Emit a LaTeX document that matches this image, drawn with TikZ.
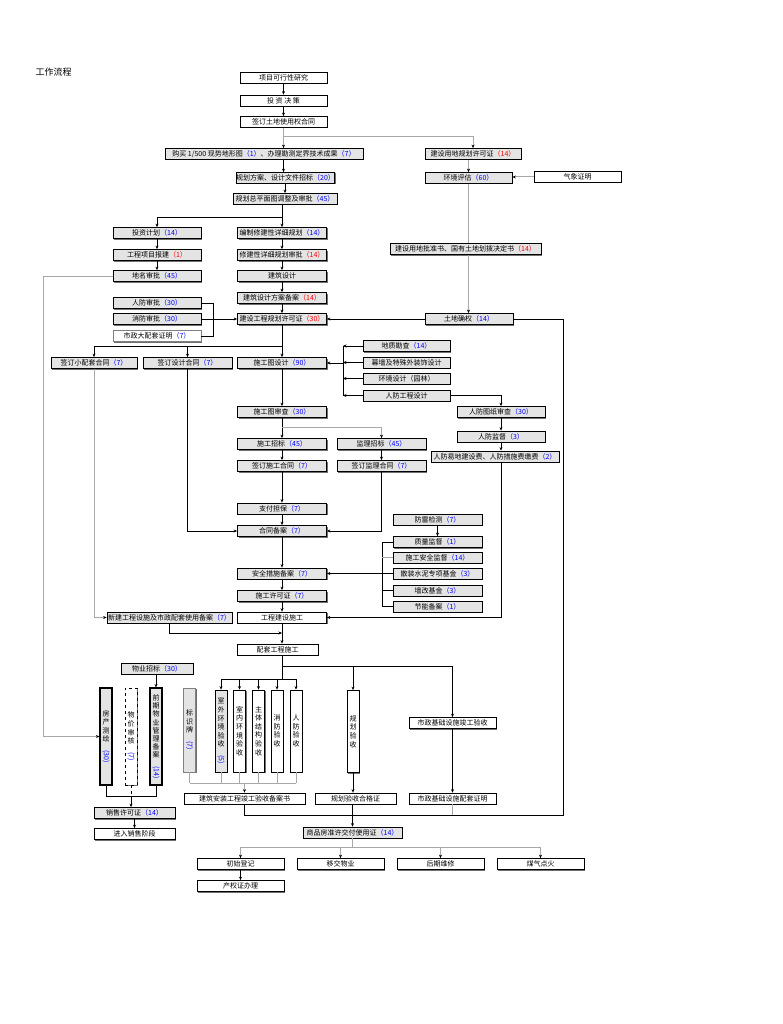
\documentclass[tikz,border=0pt]{standalone}
\usepackage{fontspec}
\setmainfont{Noto Sans CJK SC}
\usetikzlibrary{arrows.meta}
\definecolor{boxgray}{HTML}{E4E4E4}
\definecolor{lgray}{HTML}{A8A8A8}
\definecolor{shade}{HTML}{707070}
\newcommand\bn[1]{\textcolor{blue}{（#1）}}
\newcommand\rn[1]{\textcolor{red}{（#1）}}
\newcommand\vn[1]{\rotatebox{-90}{\textcolor{blue}{(#1)}}}
\begin{document}
\begin{tikzpicture}[x=1pt,y=-1pt,
 bx/.style={draw=black, line width=0.8pt, fill=boxgray, minimum height=11pt, inner sep=0pt, font=\fontsize{7}{8}\selectfont,
   preaction={fill=shade, transform canvas={shift={(1pt,-1pt)}}}},
 wb/.style={bx, fill=white},
 vb/.style={bx, align=center, font=\fontsize{7}{8.6}\selectfont, minimum width=12pt},
 ln/.style={draw=black, line width=0.7pt},
 ar/.style={ln, -{Stealth[length=3.5pt,width=3pt]}},
 gl/.style={draw=lgray, line width=1pt},
 ga/.style={gl, -{Stealth[length=3.5pt,width=3pt,color=black]}},
]
\fill[white] (0,0) rectangle (782,1024);
\useasboundingbox (0,0) rectangle (782,1024);

\node[anchor=west, font=\fontsize{9}{10}\selectfont] (title) at (32,72) {工作流程};

% top
\node[wb, minimum width=87pt] (feas) at (283.5,78) {项目可行性研究};
\node[wb, minimum width=87pt] (inv) at (283.5,100.5) {投 资 决 策};
\node[wb, minimum width=87pt] (land) at (283.5,122) {签订土地使用权合同};
\node[bx, minimum width=198pt] (buy) at (264,154) {购买 1/500 现势地形图\bn{1}、办理勘测定界技术成果\bn{7}};
\node[bx, minimum width=96pt] (plp) at (473,154) {建设用地规划许可证\rn{14}};
\node[bx, minimum width=87pt] (env) at (468.5,178) {环境评估\bn{60}};
\node[wb, minimum width=87pt, line width=0.6pt] (wea) at (577.5,177) {气象证明};
\node[bx, minimum width=97pt] (sch) at (285.5,178) {规划方案、设计文件招标\bn{20}};
\node[bx, minimum width=104pt] (mst) at (285,199) {规划总平面图调整及审批\bn{45}};

% left column
\node[bx, minimum width=88pt] (ipl) at (157,233) {投资计划\bn{14}};
\node[bx, minimum width=88pt] (rep) at (157,255) {工程项目报建\rn{1}};
\node[bx, minimum width=88pt] (nam) at (157,276) {地名审批\bn{45}};
\node[bx, minimum width=88pt] (cda) at (157,303) {人防审批\bn{30}};
\node[bx, minimum width=88pt] (fir) at (157,319) {消防审批\bn{30}};
\node[wb, minimum width=88pt, draw=gray] (mun) at (157,336) {市政大配套证明\bn{7}};

% center column
\node[bx, minimum width=89pt] (dpl) at (282,233) {编制修建性详细规划\bn{14}};
\node[bx, minimum width=89pt] (dap) at (282,255) {修建性详细规划审批\rn{14}};
\node[bx, minimum width=89pt] (ard) at (282,276) {建筑设计};
\node[bx, minimum width=89pt] (arr) at (282,298) {建筑设计方案备案\rn{14}};
\node[bx, minimum width=89pt] (bpp) at (282,319) {建设工程规划许可证\rn{30}};
\node[bx, minimum width=89pt] (drw) at (282,363) {施工图设计\bn{90}};
\node[bx, minimum width=89pt] (rev) at (282,412) {施工图审查\bn{30}};
\node[bx, minimum width=89pt] (ctn) at (282,444) {施工招标\bn{45}};
\node[bx, minimum width=89pt] (cct) at (282,466) {签订施工合同\bn{7}};
\node[bx, minimum width=89pt] (gua) at (282,508.5) {支付担保\bn{7}};
\node[bx, minimum width=89pt] (crd) at (282,531) {合同备案\bn{7}};
\node[bx, minimum width=89pt] (saf) at (282,573.5) {安全措施备案\bn{7}};
\node[bx, minimum width=89pt] (pmt) at (282,596) {施工许可证\bn{7}};
\node[wb, minimum width=89pt, line width=0.6pt] (con) at (282,617.5) {工程建设施工};
\node[wb, minimum width=81pt] (sup) at (277.5,649.5) {配套工程施工};

% right of center
\node[bx, minimum width=151pt] (lap) at (465.5,249) {建设用地批准书、国有土地划拨决定书\rn{14}};
\node[bx, minimum width=88pt] (lrt) at (469,319) {土地确权\bn{14}};

\node[bx, minimum width=86pt] (smc) at (94,363) {签订小配套合同\bn{7}};
\node[bx, minimum width=89pt] (dsc) at (187.5,363) {签订设计合同\bn{7}};

\node[bx, minimum width=87pt] (geo) at (406.5,346) {地质勘查\bn{14}};
\node[bx, minimum width=87pt] (cur) at (406.5,362.5) {幕墙及特殊外装饰设计};
\node[bx, minimum width=87pt] (lsc) at (406.5,378.5) {环境设计（园林）};
\node[bx, minimum width=87pt] (cdd) at (406.5,395.5) {人防工程设计};
\node[bx, minimum width=88pt] (cdr) at (501,412) {人防图纸审查\bn{30}};
\node[bx, minimum width=88pt] (cds) at (501,436.5) {人防监督\bn{3}};
\node[bx, minimum width=128pt] (cdf) at (495,456.5) {人防易地建设费、人防措施费缴费\bn{2}};

\node[bx, minimum width=89pt] (stn) at (381.5,444) {监理招标\bn{45}};
\node[bx, minimum width=89pt] (sct) at (381.5,466) {签订监理合同\bn{7}};

\node[bx, minimum width=89pt] (lig) at (437.5,519.5) {防雷检测\bn{7}};
\node[bx, minimum width=89pt] (qua) at (437.5,542) {质量监督\bn{1}};
\node[bx, minimum width=89pt] (sss) at (437.5,557.5) {施工安全监督\bn{14}};
\node[bx, minimum width=89pt] (cem) at (437.5,573.5) {散装水泥专项基金\bn{3}};
\node[bx, minimum width=89pt] (wal) at (437.5,590.5) {墙改基金\bn{3}};
\node[bx, minimum width=89pt] (ene) at (437.5,606.5) {节能备案\bn{1}};

\node[bx, minimum width=125pt] (fac) at (169.5,617.5) {新建工程设施及市政配套使用备案\bn{7}};
\node[bx, minimum width=72pt] (ptd) at (157,668.5) {物业招标\bn{30}};

% vertical boxes
\node[vb, minimum height=97pt, line width=1.1pt] (v1) at (106,736.5) {房\\产\\测\\绘\\\vn{30}};
\node[vb, minimum height=97pt, fill=white, dashed, preaction={}] (v2) at (131,736.5) {物\\价\\审\\核\\\vn{7}};
\node[vb, minimum height=97pt, line width=1.1pt, font=\fontsize{7}{8.2}\selectfont] (v3) at (156,736.5) {前\\期\\物\\业\\管\\理\\备\\案\\\vn{14}};
\node[vb, minimum height=84pt, draw=gray] (v4) at (189.5,730) {标\\识\\牌\\\vn{7}};
\node[vb, minimum height=82pt] (v5) at (221,731) {室\\外\\环\\境\\验\\收\\\vn{5}};
\node[vb, minimum height=82pt, fill=white] (v6) at (239.5,731) {室\\内\\环\\境\\验\\收};
\node[vb, minimum height=82pt, fill=white] (v7) at (258.5,731) {主\\体\\结\\构\\验\\收};
\node[vb, minimum height=82pt, fill=white] (v8) at (277,731) {消\\防\\验\\收};
\node[vb, minimum height=82pt, fill=white] (v9) at (296,731) {人\\防\\验\\收};
\node[vb, minimum height=82pt, fill=white] (v10) at (353,731.5) {规\\划\\验\\收};

\node[wb, minimum width=87pt, line width=0.6pt] (iac) at (452.5,723) {市政基础设施竣工验收};
\node[wb, minimum width=121pt] (brc) at (244.5,798.5) {建筑安装工程竣工验收备案书};
\node[wb, minimum width=81pt] (plc) at (355.5,798.5) {规划验收合格证};
\node[wb, minimum width=87pt, line width=0.6pt] (ifc) at (452.5,798.5) {市政基础设施配套证明};
\node[bx, minimum width=81pt] (sal) at (134.5,813) {销售许可证\bn{14}};
\node[wb, minimum width=81pt, line width=0.6pt] (ens) at (134.5,834) {进入销售阶段};
\node[bx, minimum width=99pt] (cmd) at (352.5,832.5) {商品房准许交付使用证\bn{14}};
\node[wb, minimum width=87pt] (ini) at (240.5,864) {初始登记};
\node[wb, minimum width=87pt] (trn) at (340.5,864) {移交物业};
\node[wb, minimum width=87pt] (mnt) at (440.5,864) {后期维修};
\node[wb, minimum width=87pt] (gas) at (540.5,864) {煤气点火};
\node[wb, minimum width=87pt] (dee) at (240.5,886) {产权证办理};

% ---------- connectors ----------
\draw[ar] (feas) -- (inv);
\draw[ar] (inv) -- (land);
\coordinate (j1) at (283.5,137);
\draw[gl] (land) -- (j1);
\draw[ga] (j1) -- (j1 |- buy.north);
\draw[ga] (j1) -| (plp.north);
\draw[ar] (buy.south -| j1) -- (j1 |- sch.north);
\draw[ar] (sch.south -| mst) -- (mst.north);
\coordinate (j2) at (282,217);
\draw[ln] (mst.south -| j2) -- (j2);
\draw[ar] (j2) -| (ipl.north);
\draw[ar] (j2) -- (dpl.north);
\draw[ar] (ipl) -- (rep);
\draw[ar] (rep) -- (nam);
\draw[ar] (dpl) -- (dap);
\draw[ar] (dap) -- (ard);
\draw[ar] (ard) -- (arr);
\draw[ar] (arr) -- (bpp);
\draw[ga] (nam.west) -- (43,276) |- (v1.west);
\draw[ln] (cda.east) -- (213,303) -- (213,336) -- (mun.east);
\draw[ar] (fir) -- (bpp);
\draw[ga] (wea.west) -- (wea.west -| env.east);
\draw[ga] (env.north |- plp.south) -- (env.north);
\draw[gl] (env.south) -- (env.south |- lap.north);
\draw[ga] (env.south |- lap.south) -- (env.south |- lrt.north);
\draw[ar] (lrt) -- (bpp);
% construction drawing branch
\coordinate (j3) at (282,346);
\draw[ln] (bpp) -- (j3);
\draw[ar] (j3) -- (drw);
\draw[ar] (j3) -| (smc.north);
\draw[ar] (dsc.north |- j3) -- (dsc.north);
\coordinate (j4) at (343,363);
\draw[ln] (geo.west -| j4) -- (cdd.west -| j4);
\draw[ar] (geo.west) -- (geo.west -| j4);
\draw[ar] (cur.west) -- (cur.west -| j4);
\draw[ar] (lsc.west) -- (lsc.west -| j4);
\draw[ar] (cdd.west) -- (cdd.west -| j4);
\draw[ar] (j4) -- (drw.east);
\draw[ar] (cdd.east) -| (cdr.north);
\draw[ar] (cdr) -- (cds);
\draw[ar] (cds.south) -- (cds.south |- cdf.north);
\draw[ar] (cdf.south -| cds) -- (cds |- con) -- (con.east);
% tenders
\draw[ar] (drw) -- (rev);
\draw[ar] (rev) -- (ctn);
\coordinate (j5) at (282,427);
\draw[ga] (j5) -| (stn.north);
\draw[ar] (ctn) -- (cct);
\draw[ar] (stn) -- (sct);
\draw[ar] (cct) -- (gua);
\draw[ar] (gua) -- (crd);
\draw[ar] (sct.south) |- (crd.east);
\draw[ar] (dsc.south) |- (crd.west);
\draw[ga] (smc.south) |- (fac.west);
\draw[ar] (crd) -- (saf);
\draw[ar] (saf) -- (pmt);
\draw[ar] (pmt) -- (con);
% supervision group
\coordinate (gx) at (382,0);
\draw[ar] (lig) -- (qua);
\draw[ln] (qua.west) -- (qua.west -| gx) -- (ene.west -| gx) -- (ene.west);
\draw[gl] (sss.west) -- (sss.west -| gx);
\draw[ln] (wal.west) -- (wal.west -| gx);
\draw[ar] (cem.west) -- (saf.east);
% construction and acceptance
\coordinate (j6) at (282,633);
\draw[ar] (fac.south) |- (j6);
\draw[ar] (con.south) -- (con.south |- sup.north);
\coordinate (j7) at (282,679);
\coordinate (j8) at (282,666);
\draw[ln] (sup.south -| j7) -- (j7);
\draw[ln] (v5.north |- j7) -- (v9.north |- j7);
\foreach \n in {v5,v6,v7,v8,v9} \draw[ar] (\n.north |- j7) -- (\n.north);
\draw[ar] (j8) -| (v10.north);
\draw[ar] (j8) -| (iac.north);
\draw[ar] (ptd.south -| v3) -- (v3.north);
\coordinate (j9) at (244.5,783);
\foreach \n in {v4,v5,v6,v7,v8,v9} \draw[gl] (\n.south) -- (\n.south |- j9);
\draw[gl] (v4.south |- j9) -- (v9.south |- j9);
\draw[ga] (j9) -- (brc.north);
\draw[ar] (v10.south) -- (v10.south |- plc.north);
\draw[ar] (iac) -- (ifc);
\coordinate (j10) at (131,796);
\draw[ln] (v1.south) -- (v1.south |- j10) -- (v3.south |- j10) -- (v3.south);
\draw[ln, dashed] (v2.south) -- (j10);
\draw[ar] (j10) -- (j10 |- sal.north);
\draw[ar] (sal) -- (ens);
\coordinate (b815) at (244.5,815);
\draw[ln] (brc.south) -- (b815) -- (563,815) -- (563,319) -- (lrt.east);
\draw[gl] (ifc.south) -- (ifc.south |- b815);
\draw[ar] (plc.south -| cmd) -- (cmd.north);
\coordinate (b847) at (352.5,847);
\draw[gl] (cmd.south) -- (b847);
\draw[gl] (ini.north |- b847) -- (gas.north |- b847);
\foreach \n in {ini,trn,mnt,gas} \draw[ga] (\n.north |- b847) -- (\n.north);
\draw[ar] (ini) -- (dee);
\end{tikzpicture}
\end{document}
